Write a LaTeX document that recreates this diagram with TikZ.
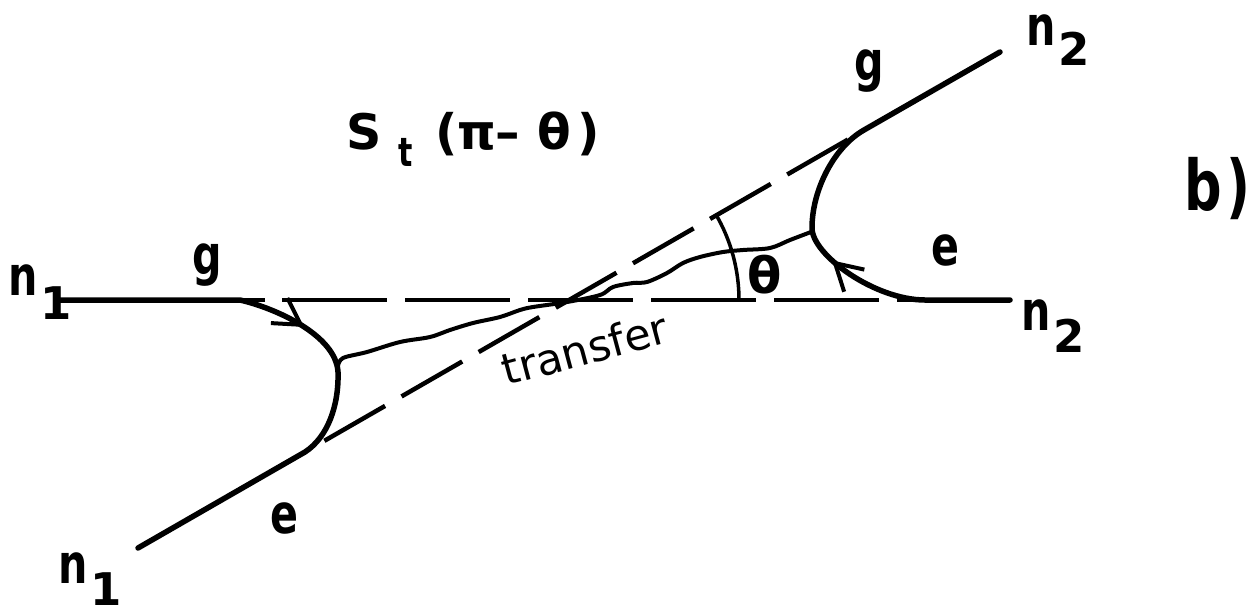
\documentclass[tikz,border=0pt]{standalone}
\usepackage{fontspec}
\setmainfont{DejaVu Sans}
\newfontfamily\nrw[FakeStretch=0.75]{DejaVu Sans}
\usetikzlibrary{arrows.meta,decorations.markings}
\newcommand{\nsub}[2]{{\nrw\bfseries n}\kern3pt\raisebox{-#2}{\normalfont\bfseries\fontsize{45}{50}\selectfont #1}}
\newcommand{\pc}[2]{\makebox[#1][l]{#2}}
\begin{document}
\begin{tikzpicture}[x=1pt,y=-1pt,
  curve/.style={line width=5.5pt, line cap=round, line join=round},
  dashline/.style={line width=4.5pt},
  wave/.style={line width=4pt, line cap=round, line join=round},
  anglearc/.style={line width=3.5pt},
  lbl/.style={inner sep=0pt, font=\nrw\bfseries\fontsize{55}{60}\selectfont},
  midarrow/.style={postaction={decorate}, decoration={markings, mark=at position #1 with {\arrow{Straight Barb[length=26pt,width=30pt,line width=4pt]}}}}]
\useasboundingbox (0,0) rectangle (1252,614);
\fill[white] (0,0) rectangle (1252,614);

\coordinate (C) at (569,300);
\coordinate (LV) at (338,372);
\coordinate (RV) at (812,228);
\coordinate (HL) at (58,300);
\coordinate (HR) at (1010,300);
\coordinate (DL) at (138,548);
\coordinate (DU) at (1000,52);
\coordinate (W1) at (338,366);
\coordinate (W2) at (811,232);

% asymptotes
\draw[dashline] (240,300) -- (265,300);
\draw[dashline, dash pattern=on 105pt off 18pt] (282,300) -- (925,300);
\draw[dashline, dash pattern=on 70pt off 19pt] (324.4,440.8) -- (864.4,130.1);

% particle paths
\draw[curve, midarrow=252pt] (HL) -- (240,300) .. controls (275,308) and (336,335) .. (LV) .. controls (339,405) and (328,437) .. (305,452) -- (DL);
\draw[curve, midarrow=188pt] (HR) -- (925,300) .. controls (875,300) and (812,255) .. (RV) .. controls (812,190) and (834,147) .. (864,130) -- (DU);

% transfer
\draw[wave] plot[smooth, tension=0.55] coordinates {(W1) (343,358) (367,352) (400,342) (430,337) (450,330) (473,323) (500,317) (520,310) (533,307) (567,302) (600,295) (613,287) (633,283) (647,282) (667,273) (683,263) (700,257) (723,252) (743,250) (770,248) (790,240) (W2)};

% angle
\draw[anglearc] (C) ++(0:170) arc[start angle=0, end angle=-30.5, radius=170];

% labels
\node[lbl, anchor=base west] (n1a) at (8,295) {\nsub{1}{24pt}};
\node[lbl, anchor=base west] (n1b) at (58,583) {\nsub{1}{22pt}};
\node[lbl, anchor=base west] (n2a) at (1026,45) {\nsub{2}{20pt}};
\node[lbl, anchor=base west] (n2b) at (1021,330) {\nsub{2}{22pt}};
\node[lbl, anchor=base] (gL) at (207,274) {g};
\node[lbl, anchor=base] (gU) at (869,80) {g};
\node[lbl, anchor=base] (eL) at (284,533) {e};
\node[lbl, anchor=base] (eR) at (945,265) {e};
\node[inner sep=0pt, anchor=base, font=\bfseries\fontsize{50}{55}\selectfont] (th) at (765,293) {θ};
\node[inner sep=0pt, anchor=base west, font=\bfseries\fontsize{49}{52}\selectfont] (St) at (346,149)
  {\pc{52pt}{S}\pc{37pt}{\raisebox{-17pt}{\nrw\bfseries\fontsize{40}{42}\selectfont t}}\pc{22pt}{(}\pc{38pt}{π}\pc{42pt}{–}\pc{40pt}{θ})};
\node[inner sep=0pt, anchor=base west, font=\nrw\bfseries\fontsize{70}{74}\selectfont] (bb) at (1184,210) {b\hspace{5pt})};
\node[inner sep=0pt, anchor=base, rotate=15, font=\fontsize{43}{46}\selectfont] (tr) at (589,364) {transfer};
\end{tikzpicture}
\end{document}
